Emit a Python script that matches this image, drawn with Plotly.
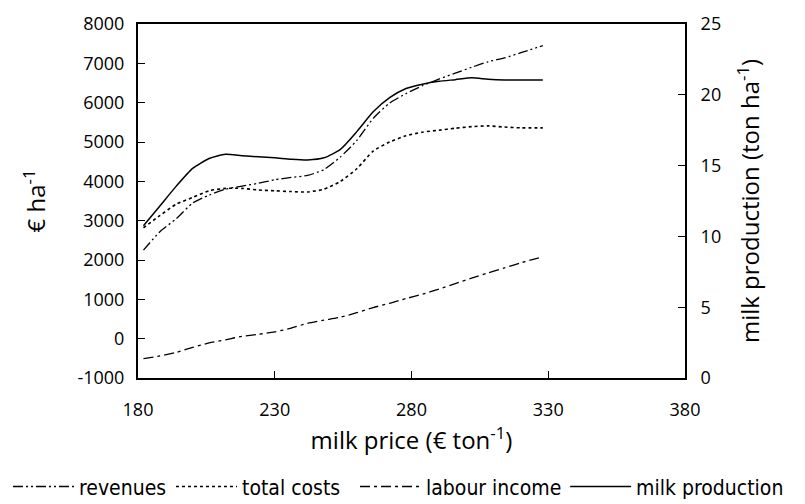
import plotly.graph_objects as go

milk_price = [182, 188, 194, 200, 206, 212, 218, 224, 230, 236, 242, 248, 254,
              260, 266, 272, 278, 284, 290, 296, 302, 308, 314, 320, 328]

revenues = [2250, 2720, 3050, 3450, 3650, 3800, 3880, 3950, 4040, 4100, 4150, 4300, 4620,
            5040, 5600, 5990, 6230, 6430, 6600, 6750, 6900, 7040, 7140, 7270, 7450]

total_costs = [2820, 3130, 3420, 3590, 3760, 3820, 3820, 3780, 3760, 3740, 3730, 3800, 4000,
               4320, 4770, 5000, 5160, 5250, 5300, 5350, 5390, 5410, 5380, 5360, 5360]

labour_income = [-510, -440, -350, -220, -110, -30, 60, 110, 170, 270, 390, 470, 545,
                 660, 790, 900, 1020, 1130, 1260, 1400, 1540, 1670, 1800, 1930, 2080]

milk_production = [10.75, 12.15, 13.55, 14.8, 15.5, 15.8, 15.7, 15.62, 15.55, 15.45, 15.4, 15.55, 16.15,
                   17.4, 18.8, 19.8, 20.45, 20.75, 20.95, 21.07, 21.2, 21.1, 21.05, 21.05, 21.05]

left_ticks = [-1000, 0, 1000, 2000, 3000, 4000, 5000, 6000, 7000, 8000]
right_ticks = [0, 5, 10, 15, 20, 25]
x_ticks = [180, 230, 280, 330, 380]

TICK_FONT = dict(family="Open Sans", size=18, color="black")
TITLE_FONT = dict(family="Open Sans", size=24, color="black")
LEGEND_FONT = dict(family="Liberation Sans Narrow, DejaVu Sans Condensed, Lato", size=21, color="black")

fig = go.Figure()
fig.add_trace(go.Scatter(x=milk_price, y=revenues, name="revenues", mode="lines", legend="legend",
                         line=dict(color="black", width=1.3, dash="10px,3px,2px,3px,2px,3px",
                                   shape="spline", smoothing=0.6)))
fig.add_trace(go.Scatter(x=milk_price, y=total_costs, name="total costs", mode="lines", legend="legend2",
                         line=dict(color="black", width=1.6, dash="3px,3px",
                                   shape="spline", smoothing=0.6)))
fig.add_trace(go.Scatter(x=milk_price, y=labour_income, name="labour income", mode="lines", legend="legend3",
                         line=dict(color="black", width=1.3, dash="10px,4px,3px,4px",
                                   shape="spline", smoothing=0.6)))
fig.add_trace(go.Scatter(x=milk_price, y=milk_production, name="milk production", mode="lines",
                         yaxis="y2", legend="legend4",
                         line=dict(color="black", width=1.5, shape="spline", smoothing=0.6)))

legend_common = dict(orientation="h", xref="container", yref="container",
                     y=0.034, yanchor="middle", xanchor="left", font=LEGEND_FONT,
                     itemwidth=61, tracegroupgap=0, bgcolor="rgba(0,0,0,0)")

fig.update_layout(
    width=805, height=504,
    margin=dict(l=138, r=120, t=24, b=126),
    paper_bgcolor="white", plot_bgcolor="white",
    showlegend=True,
    legend=dict(x=0.0099, **legend_common),
    legend2=dict(x=0.2124, **legend_common),
    legend3=dict(x=0.441, **legend_common),
    legend4=dict(x=0.702, **legend_common),
    xaxis=dict(range=[180, 380], tickvals=x_ticks, ticktext=[str(v) for v in x_ticks],
               showline=True, linecolor="black", linewidth=2, mirror=True,
               ticks="inside", ticklen=7, tickwidth=1, tickcolor="black",
               showgrid=False, zeroline=False, tickfont=TICK_FONT, ticklabelstandoff=14,
               title=dict(text="milk price (€ ton<sup>-1</sup>)", font=TITLE_FONT, standoff=0)),
    yaxis=dict(range=[-1000, 8000], tickvals=left_ticks, ticktext=[str(v) for v in left_ticks],
               showline=True, linecolor="black", linewidth=2,
               ticks="inside", ticklen=7, tickwidth=1, tickcolor="black",
               showgrid=False, zeroline=False, tickfont=TICK_FONT, ticklabelstandoff=8,
               title=dict(text="€ ha<sup>-1</sup>", font=TITLE_FONT, standoff=25)),
    yaxis2=dict(range=[0, 25], tickvals=right_ticks, ticktext=[str(v) for v in right_ticks],
                overlaying="y", side="right",
                showline=True, linecolor="black", linewidth=2,
                ticks="inside", ticklen=7, tickwidth=1, tickcolor="black",
                showgrid=False, zeroline=False, tickfont=TICK_FONT, ticklabelstandoff=10,
                title=dict(text="milk production (ton ha<sup>-1</sup>)", font=TITLE_FONT, standoff=22)),
)

fig.write_html("out.html")
